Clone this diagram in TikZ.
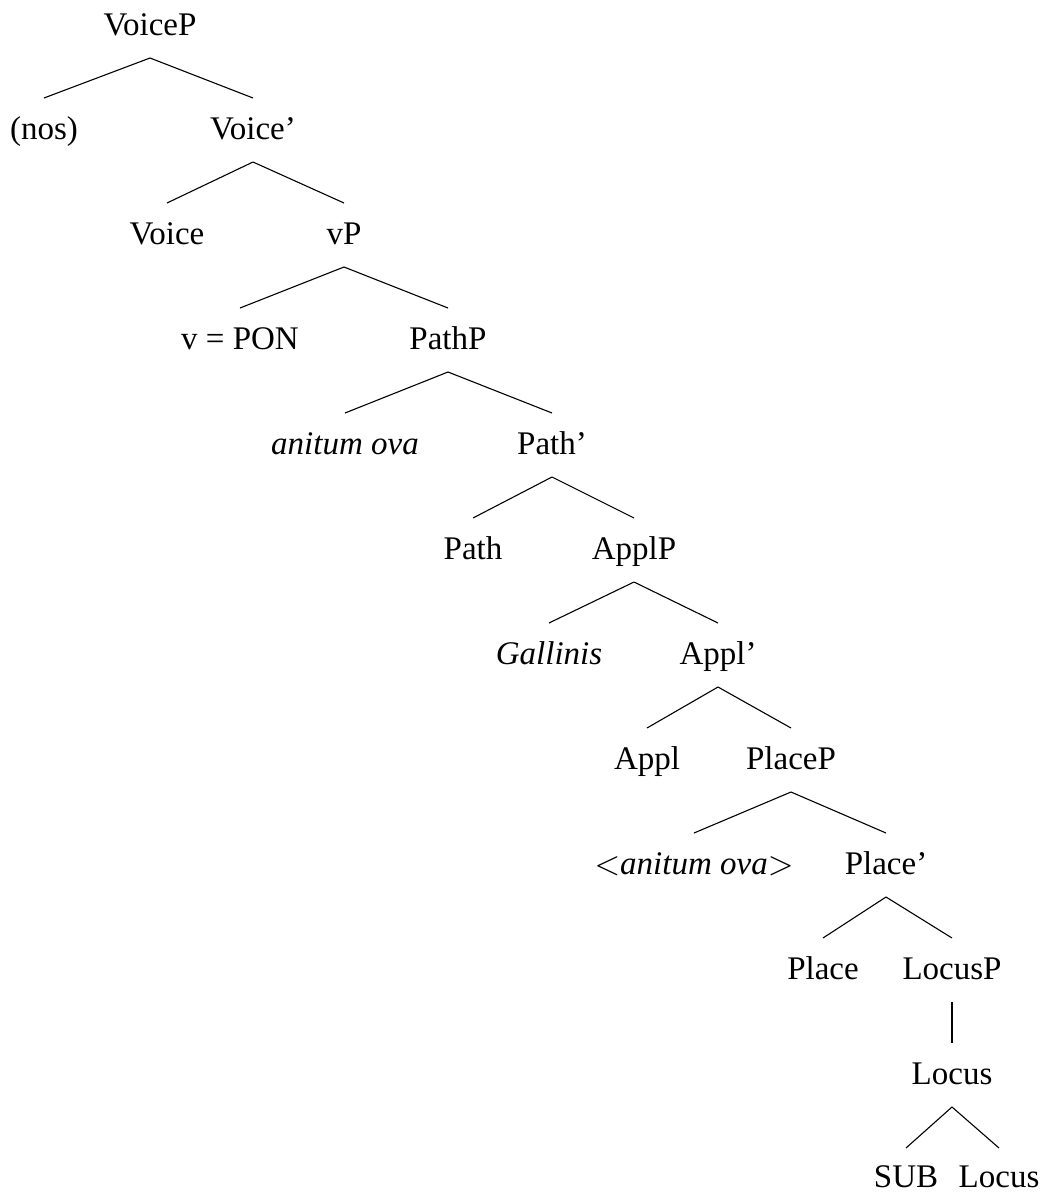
\documentclass[tikz,border=0pt]{standalone}
\usepackage{graphicx}
\usepackage{fontspec}
\setmainfont{Liberation Serif}
% math angle brackets at 10pt, scaled up to the label size
\newcommand{\tlt}{\scalebox{3.3}{\normalsize$<$}}
\newcommand{\tgt}{\scalebox{3.3}{\normalsize$>$}}
\begin{document}
\begin{tikzpicture}[x=1pt,y=-1pt,
  lbl/.style={anchor=base,inner sep=0pt,font=\fontsize{33}{40}\selectfont},
  edge/.style={line width=1.1pt}]
\useasboundingbox (0,0) rectangle (1041,1192);
% rows: baseline of row i = 35 + 105 (i-1)
\node[lbl] (voicep)   at (150,35)   {VoiceP};
\node[lbl] (nos)      at (44,139)   {(nos)};
\node[lbl] (voicebar) at (253,139)  {Voice'};
\node[lbl] (voice)    at (167,244)  {Voice};
\node[lbl] (vp)       at (344,244)  {vP};
\node[lbl] (v)        at (240,349)  {v = PON};
\node[lbl] (pathp)    at (448,349)  {PathP};
\node[lbl] (anitum)   at (345,454)  {\itshape anitum ova};
\node[lbl] (pathbar)  at (552,454)  {Path'};
\node[lbl] (path)     at (473,559)  {Path};
\node[lbl] (applp)    at (634,559)  {ApplP};
\node[lbl] (gallinis) at (549,664)  {\itshape Gallinis};
\node[lbl] (applbar)  at (718,664)  {Appl'};
\node[lbl] (appl)     at (647,769)  {Appl};
\node[lbl] (placep)   at (791,769)  {PlaceP};
\node[lbl] (trace)    at (694,874)  {\tlt\textit{anitum ova}\tgt};
\node[lbl] (placebar) at (886,874)  {Place'};
\node[lbl] (place)    at (823,979)  {Place};
\node[lbl] (locusp)   at (952,979)  {LocusP};
\node[lbl] (locus)    at (952,1084) {Locus};
\node[lbl] (sub)      at (906,1187) {SUB};
\node[lbl] (locusb)   at (999,1187) {Locus};
% branches: from just below the mother to just above each daughter
\foreach \m/\d in {voicep/nos,voicep/voicebar,voicebar/voice,voicebar/vp,
  vp/v,vp/pathp,pathp/anitum,pathp/pathbar,pathbar/path,pathbar/applp,
  applp/gallinis,applp/applbar,applbar/appl,applbar/placep,
  placep/trace,placep/placebar,placebar/place,placebar/locusp,
  locusp/locus}
  \draw[edge] ([yshift=-23pt]\m.base) -- ([yshift=41pt]\d.base);
\foreach \d in {sub,locusb}
  \draw[edge] ([yshift=-23pt]locus.base) -- ([yshift=39pt]\d.base);
\end{tikzpicture}
\end{document}
